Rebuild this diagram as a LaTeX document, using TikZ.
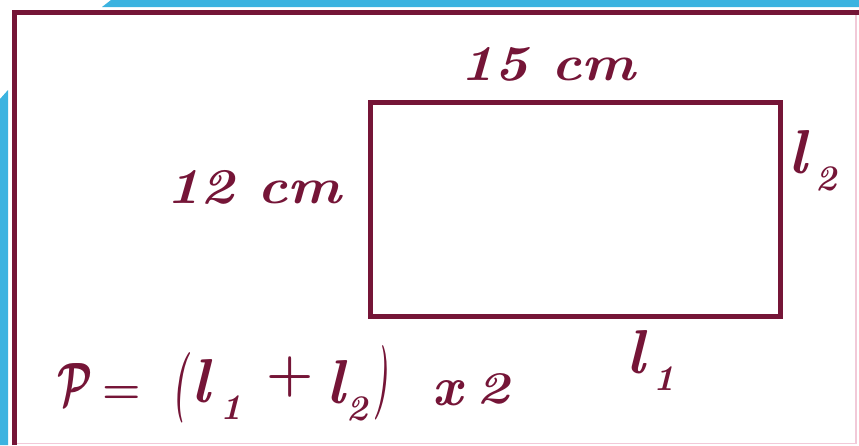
\documentclass[tikz,border=0pt]{standalone}
\usepackage{graphicx}
\definecolor{maroon}{HTML}{751537}
\definecolor{skyb}{HTML}{3BB3E0}
\definecolor{pinkline}{HTML}{F2C9D8}
\newcommand\ellsub[2]{{\fontsize{62}{64}\selectfont l}\kern#2\raisebox{-17pt}{\fontsize{36}{38}\selectfont #1}}
\tikzset{
  lab/.style={text=maroon, inner sep=0pt, font=\fontsize{50}{54}\selectfont\bfseries\itshape},
  rectbox/.style={draw=maroon, line width=5pt, inner sep=0pt, outer sep=0pt}
}
\begin{document}
\begin{tikzpicture}[x=1pt,y=-1pt]
\useasboundingbox (0,0) rectangle (859,445);
\fill[white] (0,0) rectangle (859,445);
% blue strips
\fill[skyb] (111,0) -- (859,0) -- (859,7) -- (102,7) -- cycle;
\fill[skyb] (0,99) -- (8,90) -- (8,445) -- (0,445) -- cycle;
% outer frame
\draw[pinkline, line width=1.5pt] (14.5,443.5) -- (856,443.5) -- (856,12);
\draw[maroon, line width=5pt] (14.5,445) -- (14.5,12) -- (859,12);
% inner rectangle
\node[rectbox, minimum width=410pt, minimum height=214pt] (rect) at (575,209) {};
% labels
\node[lab, anchor=base] (top) at (548,80) {\scalebox{1.14}[1]{15 \textit{cm}}};
\node[lab, anchor=base] (left) at (254,203) {\scalebox{1.14}[1]{12 \textit{cm}}};
\node[lab, anchor=base west] (l2) at (788,173) {\ellsub{2}{9pt}};
\node[lab, anchor=base west] (l1) at (626,373) {\ellsub{1}{9pt}};
% formula
\node[lab, anchor=base] (fP) at (75,405) {\resizebox{35pt}{42pt}{\boldmath$\mathcal{P}$}};
\node[lab] (feq) at (122,395) {\fontsize{44}{46}\selectfont\upshape =};
\node[lab] (fop) at (180,388) {\resizebox{15pt}{53pt}{(}};
\node[lab, anchor=base west] (fl1) at (191,402) {\ellsub{1}{11pt}};
\node[lab] (fplus) at (290,377) {\fontsize{54}{56}\selectfont\upshape +};
\node[lab, anchor=base west] (fl2) at (326,403) {\ellsub{2}{2pt}};
\node[lab] (fcp) at (381,383) {\resizebox{14pt}{56pt}{)}};
\node[lab, anchor=base] (fx) at (447,405) {\resizebox{30pt}{25pt}{\textit{x}}};
\node[lab, anchor=base] (f2) at (493,403) {\resizebox{33pt}{30pt}{2}};
\end{tikzpicture}
\end{document}
